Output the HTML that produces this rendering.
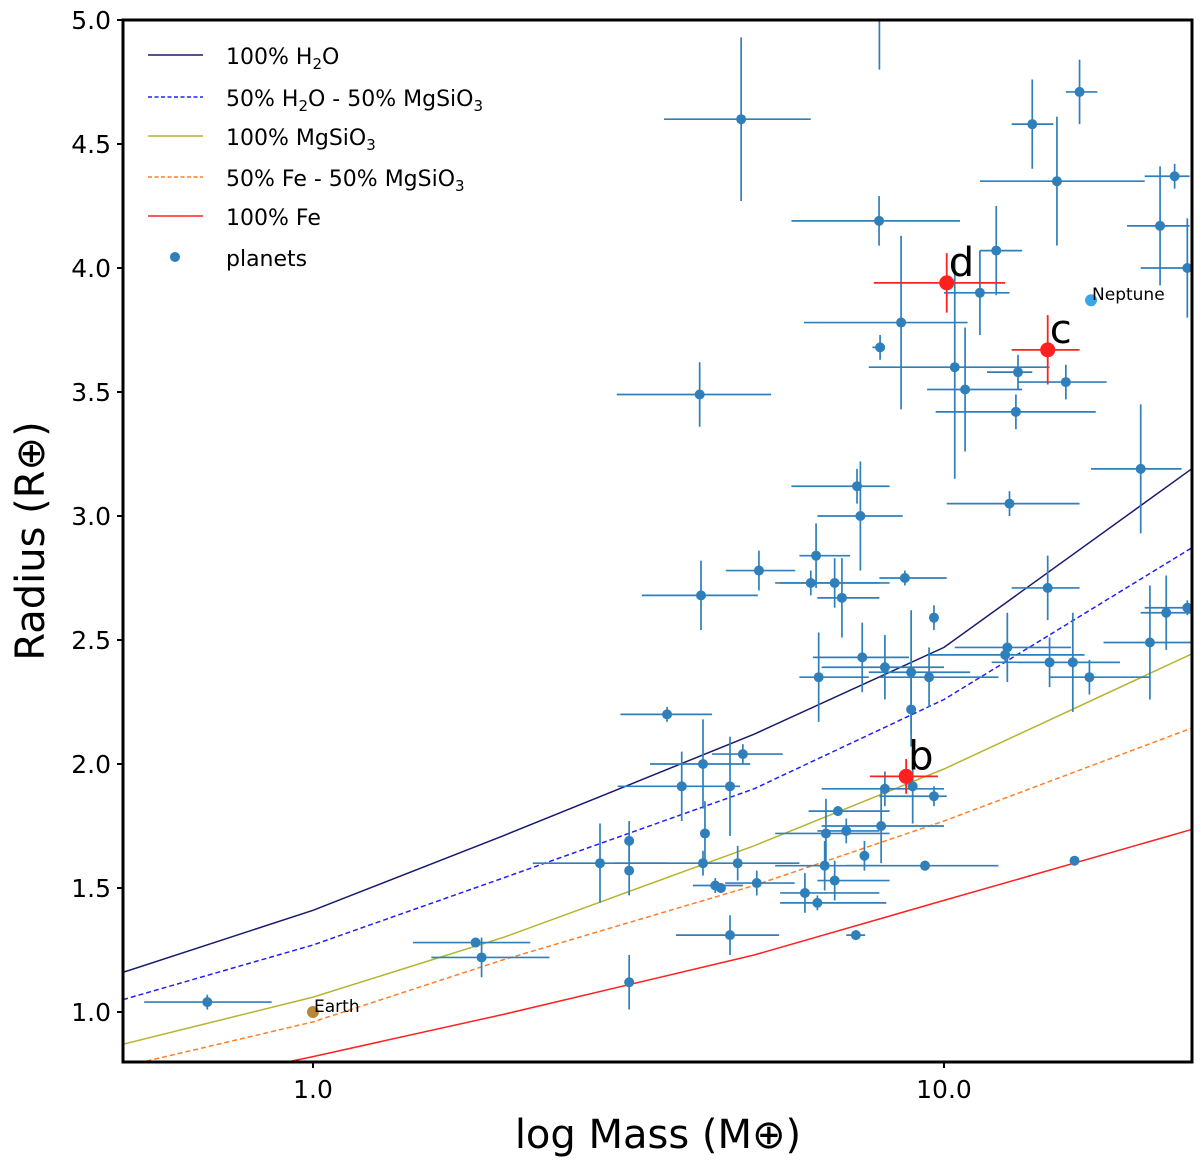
<!DOCTYPE html>
<html><head><meta charset="utf-8"><style>
html,body{margin:0;padding:0;background:#fff}
svg{display:block;font-family:"DejaVu Sans","Liberation Sans",sans-serif}
</style></head><body>
<svg id="chart" width="1200" height="1166" viewBox="0 0 1200 1166">
<defs><clipPath id="plotclip"><rect x="123" y="20" width="1069" height="1042"/></clipPath></defs>
<g id="curves" clip-path="url(#plotclip)"></g>
<g id="points" clip-path="url(#plotclip)"></g>
<g id="axes"></g>
<g id="legend">
 <line x1="148" y1="55" x2="203" y2="55" stroke="#191970" stroke-width="1.5"/>
 <text x="226" y="64" font-size="22">100% H<tspan font-size="15" dy="5">2</tspan><tspan dy="-5">O</tspan></text>
 <line x1="148" y1="97" x2="203" y2="97" stroke="#2020ff" stroke-width="1.5" stroke-dasharray="4,2.5"/>
 <text x="226" y="106" font-size="22">50% H<tspan font-size="15" dy="5">2</tspan><tspan dy="-5">O - 50% MgSiO</tspan><tspan font-size="15" dy="5">3</tspan></text>
 <line x1="148" y1="136" x2="203" y2="136" stroke="#b5b42e" stroke-width="1.5"/>
 <text x="226" y="145" font-size="22">100% MgSiO<tspan font-size="15" dy="5">3</tspan></text>
 <line x1="148" y1="177" x2="203" y2="177" stroke="#ff7f2a" stroke-width="1.5" stroke-dasharray="4,2.5"/>
 <text x="226" y="186" font-size="22">50% Fe - 50% MgSiO<tspan font-size="15" dy="5">3</tspan></text>
 <line x1="148" y1="216" x2="203" y2="216" stroke="#ff2020" stroke-width="1.5"/>
 <text x="226" y="225" font-size="22">100% Fe</text>
 <circle cx="175" cy="257" r="5" fill="#2f7fbb"/>
 <text x="226" y="266" font-size="22">planets</text>
</g>
</svg>
<script>
const tickR=[1.0,1.5,2.0,2.5,3.0,3.5,4.0,4.5,5.0];
const tickRLabels=["1.0","1.5","2.0","2.5","3.0","3.5","4.0","4.5","5.0"];
const tickM=[1,10];
const tickMLabels=["1.0","10.0"];
const curveMass=[0.5,1,2,5,10,25];
const curveH2O=[1.16,1.41,1.71,2.12,2.47,3.20];
const curveH2OSil=[1.05,1.27,1.54,1.90,2.26,2.88];
const curveSil=[0.87,1.06,1.30,1.67,1.98,2.45];
const curveFeSil=[0.78,0.96,1.21,1.51,1.77,2.15];
const curveFe=[0.66,0.82,0.99,1.23,1.45,1.74];
// planets: mass, mass lo, mass hi, radius, radius err
const pMass=[0.68,1.81,1.85,3.17,3.64,4.10,4.12,4.77,5.09,2.85,3.17,3.17,3.84,4.15,4.18,4.15,4.80,4.58,4.71,4.34,4.43,5.05,4.58,6.27,6.15,6.33,6.71,6.89,7.28,7.37,7.89,7.92,8.55,8.67,7.42,8.06,8.87,8.87,9.47,9.64,8.06,8.92,9.64,7.95,6.79,6.50,7.00,6.47,7.48,6.71,6.02,6.30,7.25,9.33,10.4,11.4,10.8,12.1,13.1,13.0,12.7,15.6,13.8,15.1,16.4,23.2,22.0,24.3,20.5,22.5,24.3,21.2,14.6,12.6,14.7,16.0,17.0,16.1,12.5,7.9];
const pMassLo=[0.54,1.44,1.54,3.17,3.07,3.03,3.32,3.60,4.51,2.23,3.17,3.17,3.04,3.42,4.18,3.0,4.29,4.58,4.71,4.0,4.43,4.5,3.76,5.9,5.5,5.9,5.4,6.3,5.73,6.3,5.73,7.7,6.0,7.9,6.2,6.4,7.6,8.87,7.9,9.64,6.4,8.92,7.9,6.4,6.1,5.4,6.3,5.4,7.48,6.3,5.5,5.5,7.0,7.0,7.6,10.0,9.4,11.4,11.7,9.7,10.1,13.1,12.8,11.4,15.6,20.8,19.5,20.5,17.1,20.5,20.8,17.9,12.8,10.4,11.9,13.1,14.7,16.1,9.5,7.9];
const pMassHi=[0.86,2.21,2.37,3.17,4.29,5.32,5.07,6.15,5.81,3.65,3.17,3.17,4.75,4.93,4.18,5.9,5.55,4.58,4.71,4.8,4.43,5.8,5.48,7.1,7.9,7.6,8.2,7.9,8.20,8.6,10.6,7.92,10.9,10.1,8.8,10.0,11.0,8.87,12.2,9.64,10.0,8.92,10.1,10.0,8.2,8.2,7.9,7.9,7.48,8.2,7.9,8.1,7.5,12.2,14.7,12.7,13.3,13.3,13.8,17.4,16.4,18.1,14.9,20.8,17.5,24.5,24.5,25,23.8,25,25,25,16.4,15.9,19.0,19.0,21.2,16.1,16.7,7.9];
const pRad=[1.04,1.28,1.22,1.12,2.20,3.49,2.68,4.60,2.78,1.60,1.69,1.57,1.91,2.00,1.72,1.60,2.04,1.91,1.60,1.51,1.50,1.52,1.31,2.84,2.73,2.35,2.73,2.67,3.12,3.00,4.19,3.68,3.78,2.75,2.43,2.39,2.37,2.22,2.35,2.59,1.90,1.91,1.87,1.75,1.81,1.72,1.73,1.59,1.63,1.53,1.48,1.44,1.31,1.59,3.60,3.90,3.51,4.07,3.58,3.42,3.05,3.54,4.58,4.35,4.71,4.37,4.17,4.00,3.19,2.61,2.63,2.49,2.71,2.47,2.41,2.41,2.35,1.61,2.44,5.1];
const pRadErr=[0.03,0.02,0.08,0.11,0.03,0.13,0.14,0.33,0.08,0.16,0.08,0.10,0.14,0.18,0.13,0.05,0.04,0.2,0.07,0.03,0.02,0.05,0.08,0.13,0.05,0.18,0.10,0.16,0.07,0.22,0.10,0.05,0.35,0.03,0.14,0.13,0.25,0.15,0.12,0.05,0.07,0.15,0.04,0.15,0.02,0.14,0.05,0.10,0.06,0.08,0.08,0.03,0.02,0.02,0.45,0.17,0.25,0.18,0.07,0.07,0.05,0.07,0.18,0.26,0.13,0.05,0.24,0.20,0.26,0.15,0.03,0.23,0.13,0.14,0.10,0.20,0.07,0.01,0.03,0.3];
// highlighted planets b, c, d
const hlNames=["b","c","d"];
const hlMass=[8.71,14.6,10.1];
const hlMassLo=[7.63,12.8,7.74];
const hlMassHi=[9.78,16.4,12.5];
const hlRad=[1.95,3.67,3.94];
const hlRadErr=[0.07,0.14,0.12];
const solarNames=["Earth","Neptune"];
const solarMass=[1.0,17.1];
const solarRad=[1.0,3.87];

const X0=123,X1=1192,Y0=20,Y1=1062;
const xs=m=>313+631*Math.log10(m);
const ys=r=>1012-248*(r-1);
const NS="http://www.w3.org/2000/svg";
function mk(tag,attrs,parent){const e=document.createElementNS(NS,tag);for(const k in attrs)e.setAttribute(k,attrs[k]);parent.appendChild(e);return e;}
const axes=document.getElementById('axes'),curves=document.getElementById('curves'),pts=document.getElementById('points');

const cdefs=[[curveH2O,"#191970",null,"curve-h2o"],[curveH2OSil,"#2020ff","5,3","curve-h2o-mgsio3"],[curveSil,"#b5b42e",null,"curve-mgsio3"],[curveFeSil,"#ff7f2a","5,3","curve-fe-mgsio3"],[curveFe,"#ff2020",null,"curve-fe"]];
cdefs.forEach(c=>{
 const d=curveMass.map((m,i)=>(i?"L":"M")+xs(m).toFixed(1)+","+ys(c[0][i]).toFixed(1)).join(" ");
 const p=mk('path',{d:d,fill:"none",stroke:c[1],"stroke-width":1.5},curves);
 if(c[2])p.setAttribute('stroke-dasharray',c[2]);
 
 
});

pMass.forEach((m,i)=>{
 const g=mk('g',{},pts);
 
 
 const cx=xs(m),cy=ys(pRad[i]);
 mk('line',{x1:xs(pMassLo[i]),x2:xs(pMassHi[i]),y1:cy,y2:cy,stroke:"#2f7fbb","stroke-width":1.7},g);
 mk('line',{x1:cx,x2:cx,y1:ys(pRad[i]-pRadErr[i]),y2:ys(pRad[i]+pRadErr[i]),stroke:"#2f7fbb","stroke-width":1.7},g);
 mk('circle',{cx:cx,cy:cy,r:5,fill:"#2f7fbb"},g);
});
hlMass.forEach((m,i)=>{
 const g=mk('g',{},pts);
 
 
 const cx=xs(m),cy=ys(hlRad[i]);
 mk('line',{x1:xs(hlMassLo[i]),x2:xs(hlMassHi[i]),y1:cy,y2:cy,stroke:"#ff2020","stroke-width":1.8},g);
 mk('line',{x1:cx,x2:cx,y1:ys(hlRad[i]-hlRadErr[i]),y2:ys(hlRad[i]+hlRadErr[i]),stroke:"#ff2020","stroke-width":1.8},g);
 mk('circle',{cx:cx,cy:cy,r:7.5,fill:"#ff2020"},g);
 const t=mk('text',{x:cx+2,y:cy-7,"font-size":40},g);
 t.textContent=hlNames[i];
});
const solCols=["#b8873a","#3ba7e8"];
solarMass.forEach((m,i)=>{
 const cx=xs(m),cy=ys(solarRad[i]);
 const c=mk('circle',{cx:cx,cy:cy,r:6,fill:solCols[i]},pts);
 
 
 const t=mk('text',{x:cx+1,y:cy,"font-size":17},pts);
 t.textContent=solarNames[i];
 
 
});

const fr=mk('rect',{x:X0,y:Y0,width:X1-X0,height:Y1-Y0,fill:"none",stroke:"#000","stroke-width":3},axes);


tickR.forEach((r,i)=>{
 const y=ys(r);
 mk('line',{x1:X0-6,x2:X0,y1:y,y2:y,stroke:"#000","stroke-width":2},axes);
 const t=mk('text',{x:X0-12,y:y+9,"font-size":25,"text-anchor":"end"},axes);
 t.textContent=tickRLabels[i];
 
 
});
tickM.forEach((m,i)=>{
 const x=xs(m);
 mk('line',{x1:x,x2:x,y1:Y1,y2:Y1+6,stroke:"#000","stroke-width":2},axes);
 const t=mk('text',{x:x,y:Y1+36,"font-size":25,"text-anchor":"middle"},axes);
 t.textContent=tickMLabels[i];
 
 
});
const yt=mk('text',{x:0,y:0,"font-size":40,"text-anchor":"middle",transform:"translate(44,541) rotate(-90)"},axes);
yt.textContent="Radius (R⊕)";


const xt=mk('text',{x:658,y:1148,"font-size":40,"text-anchor":"middle"},axes);
xt.textContent="log Mass (M⊕)";


</script>
</body></html>
